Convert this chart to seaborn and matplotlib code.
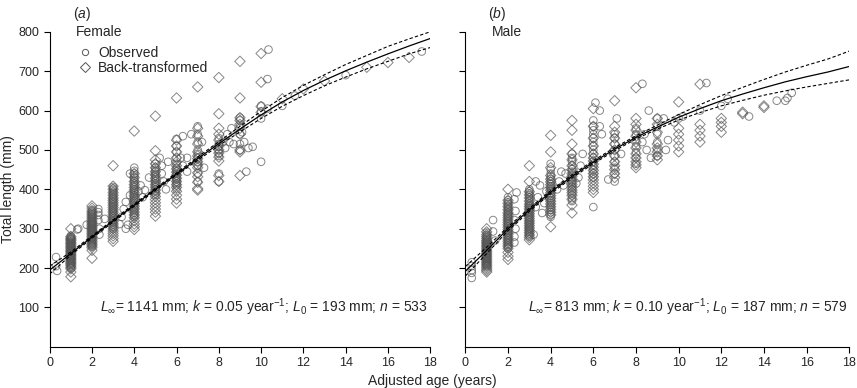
import seaborn as sns
import matplotlib.pyplot as plt
from matplotlib.lines import Line2D

# fitted curves and dashed bounds, read at whole ages 0..18
ages = list(range(19))
f_fit = [195, 237, 279, 320, 360, 400, 439, 478, 516, 553, 589, 622, 651, 677, 701, 723, 744, 764, 783]
f_upper = [205, 241, 282, 323, 363, 403, 442, 482, 521, 560, 598, 633, 664, 691, 717, 740, 763, 782, 800]
f_lower = [185, 233, 276, 317, 357, 397, 436, 474, 511, 546, 580, 611, 638, 663, 685, 706, 725, 744, 760]
m_fit = [192, 245, 300, 348, 393, 433, 469, 502, 532, 558, 583, 605, 625, 642, 658, 673, 686, 698, 712]
m_upper = [204, 253, 305, 352, 397, 437, 473, 506, 536, 563, 590, 615, 638, 659, 679, 698, 715, 731, 751]
m_lower = [180, 237, 295, 344, 389, 429, 465, 498, 528, 553, 576, 595, 612, 626, 639, 650, 660, 669, 678]

# ---- female ----
# observed lengths sitting on whole ages (one list per age)
f_obs_col_age = [1, 2, 3, 4, 5, 6, 7, 8, 9, 10]
f_obs_cols = [
    [200, 204, 208, 212, 215, 218, 222, 225, 228, 231, 235, 238, 240, 243, 246, 249, 252, 255, 258, 261,
     264, 267, 270, 273, 276, 279, 282],
    [255, 259, 262, 266, 270, 273, 277, 280, 284, 287, 290, 293, 296, 299, 302, 305, 308, 311, 314, 317,
     320, 324, 327, 330, 334, 337, 340, 344, 348],
    [300, 305, 310, 314, 318, 322, 326, 330, 334, 338, 342, 346, 350, 354, 358, 362, 366, 370, 374, 378,
     382, 386, 390, 394, 398, 402, 406],
    [330, 335, 340, 345, 350, 355, 360, 365, 370, 375, 380, 385, 390, 395, 400, 405, 410, 415, 420, 425,
     430, 435, 440, 447, 455],
    [385, 390, 395, 400, 405, 410, 415, 420, 425, 430, 435, 440, 445, 450, 455, 465],
    [400, 410, 415, 420, 425, 430, 435, 440, 445, 450, 455, 465, 480, 495, 510, 528],
    [420, 440, 460, 470, 480, 490, 500, 520, 540, 560],
    [420, 440, 485, 492, 500, 508, 515, 530],
    [500, 515, 540, 560, 575, 582],
    [470, 580, 598, 612],
]
# observed lengths between whole ages
f_off_age = [0.3, 0.3, 0.35, 1.3, 1.35, 1.75, 2.3, 2.3, 2.3, 2.3, 2.35, 2.35, 2.6,
             3.3, 3.4, 3.5, 3.6, 3.6, 3.7, 3.8, 3.8, 4.2, 4.3, 4.4, 4.5, 4.7,
             5.2, 5.3, 5.3, 5.4, 5.5, 5.6, 6.2, 6.3, 6.3, 6.5, 6.7, 6.5, 7.3, 7.2,
             8.2, 8.3, 8.4, 8.5, 8.6, 8.7, 9.2, 9.3, 9.4, 9.6, 9.1,
             10.3, 10.3, 10.35, 11, 11.6, 14, 17.6]
f_off_len = [228, 205, 193, 298, 300, 310, 350, 342, 335, 322, 300, 285, 325,
             312, 330, 350, 368, 300, 310, 440, 385, 395, 410, 380, 398, 430,
             480, 460, 440, 420, 400, 470, 480, 460, 535, 480, 540, 445, 455, 520,
             520, 505, 540, 520, 555, 515, 520, 445, 505, 508, 545,
             605, 680, 755, 612, 638, 690, 750]
# back-transformed lengths (whole ages)
f_bt_col_age = [1, 2, 3, 4, 5, 6, 7, 8, 9, 10, 11, 12, 13, 15, 16, 17]
f_bt_cols = [
    [178, 190, 198, 202, 206, 210, 213, 216, 220, 223, 226, 230, 233, 236, 240, 243, 246, 250, 253, 256,
     260, 263, 266, 270, 273, 276, 280, 300],
    [225, 245, 252, 256, 260, 264, 268, 272, 276, 280, 284, 288, 292, 296, 300, 304, 308, 312, 316, 320,
     325, 330, 335, 340, 345, 352, 358],
    [268, 275, 282, 288, 294, 300, 306, 312, 318, 324, 330, 336, 342, 348, 354, 360, 366, 372, 378, 385,
     392, 400, 408, 460],
    [298, 305, 312, 320, 328, 335, 342, 350, 357, 364, 370, 377, 384, 391, 398, 405, 412, 420, 430, 440, 548],
    [332, 342, 350, 358, 366, 374, 382, 390, 398, 405, 412, 420, 428, 436, 445, 455, 465, 475, 498, 586],
    [365, 375, 385, 395, 405, 412, 420, 428, 436, 444, 452, 460, 470, 480, 495, 510, 525, 632],
    [398, 402, 418, 432, 442, 455, 462, 470, 478, 485, 495, 515, 535, 555, 660],
    [420, 435, 472, 482, 492, 500, 510, 525, 540, 555, 592, 684],
    [435, 495, 500, 540, 555, 565, 575, 582, 632, 725],
    [595, 610, 672, 745],
    [630], [655], [675], [710], [722], [735],
]

# ---- male ----
m_obs_col_age = [1, 2, 3, 4, 5, 6, 7, 8, 9, 10, 11, 12]
m_obs_cols = [
    [205, 208, 211, 214, 217, 220, 223, 226, 229, 232, 235, 238, 241, 244, 247, 250, 253, 256, 259, 262,
     265, 268, 271, 274, 277, 280, 284, 290],
    [250, 254, 258, 262, 266, 270, 274, 278, 282, 286, 290, 294, 298, 302, 306, 310, 314, 318, 322, 326,
     330, 334, 338, 342, 346, 350, 354, 358, 362, 367, 372, 380],
    [280, 284, 288, 292, 296, 300, 304, 308, 312, 316, 320, 324, 328, 332, 336, 340, 344, 348, 352, 356,
     360, 365, 370, 375, 380, 385, 390, 395, 400],
    [330, 336, 342, 348, 354, 360, 366, 372, 378, 384, 390, 396, 402, 408, 414, 420, 426, 432, 440, 450, 465],
    [370, 378, 385, 392, 400, 407, 415, 422, 430, 437, 445, 452, 460, 470, 480, 490],
    [355, 430, 440, 450, 460, 470, 480, 490, 500, 510, 520, 530, 540, 550, 560, 575],
    [420, 440, 455, 470, 485, 500, 515, 530, 540],
    [465, 480, 495, 510, 525, 540, 555],
    [485, 500, 520, 540, 560, 580],
    [580], [600], [612],
]
m_off_age = [0.3, 0.3, 0.3, 0.3, 0.3, 1.3, 1.3, 1.4, 2.3, 2.3, 2.35, 2.3, 2.35, 2.3, 2.4,
             3.2, 3.3, 3.4, 3.5, 3.6, 3.7, 3.8, 3.3, 4.3, 4.4, 4.5, 4.7, 4.6,
             5.3, 5.4, 5.5, 5.2, 6.1, 6.3, 6.3, 6.4, 6.7, 7.1, 7.3,
             8.3, 8.6, 8.4, 8.5, 8.3, 8.7, 9.3, 9.4, 9.5, 9.8, 10.2,
             11.3, 12.3, 13.3, 14.6, 15, 15.1, 15.3]
m_off_len = [175, 188, 195, 205, 215, 322, 293, 270, 265, 280, 300, 322, 345, 375, 392,
             285, 355, 380, 410, 340, 365, 395, 420, 400, 420, 445, 440, 410,
             430, 460, 490, 415, 620, 600, 560, 540, 425, 580, 490,
             668, 600, 540, 500, 520, 480, 580, 500, 525, 570, 585,
             670, 630, 585, 625, 625, 632, 645]
m_bt_col_age = [1, 2, 3, 4, 5, 6, 7, 8, 9, 10, 11, 12, 13, 14]
m_bt_cols = [
    [190, 194, 198, 202, 206, 210, 214, 218, 222, 226, 230, 234, 238, 242, 246, 250, 254, 258, 262, 266,
     270, 275, 280, 285, 292, 300],
    [222, 230, 240, 250, 256, 262, 268, 274, 280, 286, 292, 298, 304, 310, 316, 322, 328, 334, 340, 348,
     356, 364, 372, 400],
    [272, 278, 284, 290, 296, 302, 308, 314, 320, 326, 332, 338, 344, 350, 356, 362, 370, 378, 386, 394,
     420, 460],
    [305, 335, 342, 349, 356, 363, 370, 377, 384, 391, 398, 405, 412, 419, 426, 435, 455, 495, 537],
    [340, 360, 375, 385, 392, 398, 405, 412, 419, 426, 433, 440, 450, 460, 475, 490, 515, 550, 575],
    [392, 400, 408, 416, 424, 432, 440, 448, 456, 464, 472, 480, 490, 510, 530, 560, 605],
    [430, 440, 450, 460, 470, 485, 500, 515, 530, 545, 560, 625],
    [455, 462, 470, 480, 490, 505, 520, 535, 550, 565, 580, 658],
    [475, 485, 495, 505, 515, 545, 565, 580],
    [495, 510, 525, 540, 555, 622],
    [520, 535, 550, 565, 667],
    [545, 560, 570, 580],
    [592, 596],
    [608, 612],
]


def flatten(col_ages, cols):
    xs = [a for a, col in zip(col_ages, cols) for _ in col]
    ys = [v for col in cols for v in col]
    return xs, ys


sns.set_style("ticks")
plt.rcParams['font.family'] = ['Liberation Sans', 'DejaVu Sans']
plt.rcParams['mathtext.fontset'] = 'custom'
plt.rcParams['mathtext.rm'] = 'Liberation Sans'
plt.rcParams['mathtext.it'] = 'Liberation Sans:italic'

grey = '#555555'
fig = plt.figure(figsize=(8.57, 3.88), dpi=100)
ax1 = fig.add_axes([0.058, 0.106, 0.444, 0.812])
ax2 = fig.add_axes([0.543, 0.106, 0.448, 0.812])

f_col_x, f_col_y = flatten(f_obs_col_age, f_obs_cols)
f_bt_x, f_bt_y = flatten(f_bt_col_age, f_bt_cols)
m_col_x, m_col_y = flatten(m_obs_col_age, m_obs_cols)
m_bt_x, m_bt_y = flatten(m_bt_col_age, m_bt_cols)

panels = [
    (ax1, f_col_x + f_off_age, f_col_y + f_off_len, f_bt_x, f_bt_y, f_fit, f_upper, f_lower,
     "Female", "(" + r"$\mathit{a}$" + ")",
     r"$L_{\infty}$= 1141 mm; $k$ = 0.05 year$^{-1}$; $L_0$ = 193 mm; $n$ = 533"),
    (ax2, m_col_x + m_off_age, m_col_y + m_off_len, m_bt_x, m_bt_y, m_fit, m_upper, m_lower,
     "Male", "(" + r"$\mathit{b}$" + ")",
     r"$L_{\infty}$= 813 mm; $k$ = 0.10 year$^{-1}$; $L_0$ = 187 mm; $n$ = 579"),
]

for ax, oa, ol, ba, bl, fit, up, lo, sex, tag, note in panels:
    sns.scatterplot(x=ba, y=bl, ax=ax, marker='D', s=28, facecolors='none',
                    edgecolor=grey, linewidth=0.7, alpha=0.7)
    sns.scatterplot(x=oa, y=ol, ax=ax, marker='o', s=30, facecolors='none',
                    edgecolor=grey, linewidth=0.7, alpha=0.7)
    sns.lineplot(x=ages, y=fit, ax=ax, color='black', linewidth=0.9)
    sns.lineplot(x=ages, y=up, ax=ax, color='black', linewidth=0.8, linestyle=(0, (3, 2)))
    sns.lineplot(x=ages, y=lo, ax=ax, color='black', linewidth=0.8, linestyle=(0, (3, 2)))

    ax.set_xlim(0, 18)
    ax.set_ylim(0, 800)
    ax.set_xticks(range(0, 19, 2))
    ax.set_yticks(range(100, 801, 100))
    ax.tick_params(labelsize=9, length=4, width=0.8, direction='out', color='black')
    for s in ['left', 'bottom']:
        ax.spines[s].set_linewidth(0.8)
        ax.spines[s].set_color('black')
    sns.despine(ax=ax)
    ax.set_xlabel("")
    ax.set_ylabel("")

    ax.text(0.068, 1.0, sex, transform=ax.transAxes, fontsize=10, va='center', ha='left')
    ax.text(0.06, 1.058, tag, transform=ax.transAxes, fontsize=10, va='center', ha='left')
    ax.text(17.9, 100, note, fontsize=10, ha='right', va='center')

ax2.set_yticklabels([])
ax1.set_ylabel("Total length (mm)", fontsize=10)
ax1.yaxis.set_label_coords(-0.092, 0.5)

handles = [
    Line2D([], [], marker='o', linestyle='none', markersize=4.5, markerfacecolor='none',
           markeredgecolor=grey, markeredgewidth=0.7, label='Observed'),
    Line2D([], [], marker='D', linestyle='none', markersize=5, markerfacecolor='none',
           markeredgecolor=grey, markeredgewidth=0.7, label='Back-transformed'),
]
ax1.legend(handles=handles, loc='upper left', bbox_to_anchor=(0.05, 0.985), frameon=False,
           fontsize=10, handlelength=1.0, handletextpad=0.4, borderpad=0.2, labelspacing=0.05)

fig.text(0.504, 0.018, "Adjusted age (years)", fontsize=10, ha='center', va='center')

fig.savefig("out.png", dpi=100)
